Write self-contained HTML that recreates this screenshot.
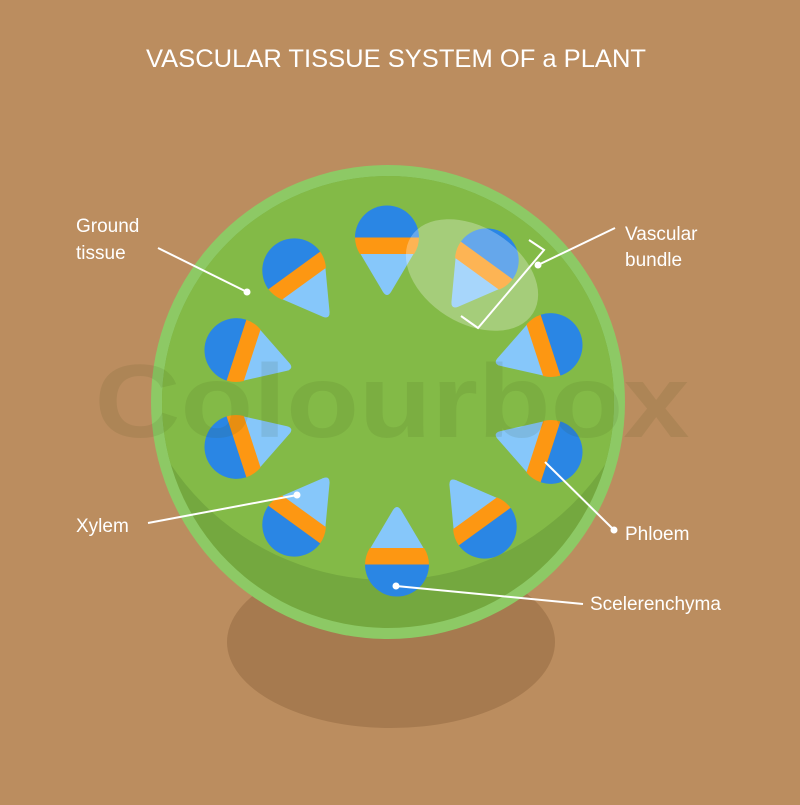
<!DOCTYPE html>
<html><head><meta charset="utf-8"><style>html,body{margin:0;padding:0;background:#bb8d5f}</style></head>
<body>
<svg width="800" height="800" viewBox="0 0 800 800" xmlns="http://www.w3.org/2000/svg" font-family="Liberation Sans, sans-serif">
<defs>
<g id="d">
<path d="M-27.1,16 L27.1,16 L4,55 Q0,61 -4,55 Z" fill="#86c7fa"/>
<path d="M-32,0 L32,0 A32,32 0 0 1 27.1,17 L-27.1,17 A32,32 0 0 1 -32,0 Z" fill="#fd9712"/>
<path d="M-32,0.5 A32,32 0 0 1 32,0.5 Z" fill="#2a86e4"/>
</g>
<clipPath id="inner"><circle cx="388" cy="402" r="226"/></clipPath>
</defs>
<rect width="800" height="800" fill="#bb8d5f"/>
<text x="396" y="67" fill="#fff" font-size="25" text-anchor="middle" textLength="500" lengthAdjust="spacingAndGlyphs">VASCULAR  TISSUE  SYSTEM  OF a  PLANT</text>
<ellipse cx="391" cy="642" rx="164" ry="86" fill="#a67a4f"/>
<circle cx="388" cy="402" r="237" fill="#8dc965"/>
<circle cx="388" cy="402" r="226" fill="#74a83f"/>
<g clip-path="url(#inner)"><circle cx="388" cy="318" r="262" fill="#83ba47"/></g>
<g>
<use href="#d" transform="translate(387,237) rotate(0)"/>
<use href="#d" transform="translate(487,260) rotate(36)"/>
<use href="#d" transform="translate(551,345) rotate(72)"/>
<use href="#d" transform="translate(551,452) rotate(108)"/>
<use href="#d" transform="translate(485,527) rotate(144)"/>
<use href="#d" transform="translate(397,565) rotate(180)"/>
<use href="#d" transform="translate(294,525) rotate(216)"/>
<use href="#d" transform="translate(236,447) rotate(252)"/>
<use href="#d" transform="translate(236,350) rotate(288)"/>
<use href="#d" transform="translate(294,270) rotate(324)"/>
</g>
<ellipse cx="472" cy="275" rx="72" ry="48" transform="rotate(32 472 275)" fill="#fff" opacity="0.28"/>
<text x="392" y="437" font-size="104" font-weight="bold" fill="#3a4a10" opacity="0.1" text-anchor="middle" textLength="595" lengthAdjust="spacingAndGlyphs">Colourbox</text>
<g stroke="#fff" stroke-width="2" fill="none">
<line x1="158" y1="248" x2="247" y2="292"/>
<line x1="615" y1="228" x2="538" y2="265"/>
<polyline points="529,240 544,250 478,328 461,316"/>
<line x1="614" y1="530" x2="545" y2="462"/>
<line x1="148" y1="523" x2="297" y2="495"/>
<line x1="396" y1="586" x2="583" y2="604"/>
</g>
<g fill="#fff">
<circle cx="247" cy="292" r="3.5"/><circle cx="538" cy="265" r="3.5"/>
<circle cx="614" cy="530" r="3.5"/><circle cx="297" cy="495" r="3.5"/>
<circle cx="396" cy="586" r="3.5"/>
</g>
<g fill="#fff" font-size="19">
<text x="76" y="232">Ground</text><text x="76" y="259">tissue</text>
<text x="625" y="240">Vascular</text><text x="625" y="266">bundle</text>
<text x="625" y="540">Phloem</text>
<text x="76" y="532">Xylem</text>
<text x="590" y="610">Scelerenchyma</text>
</g>
</svg>
</body></html>
